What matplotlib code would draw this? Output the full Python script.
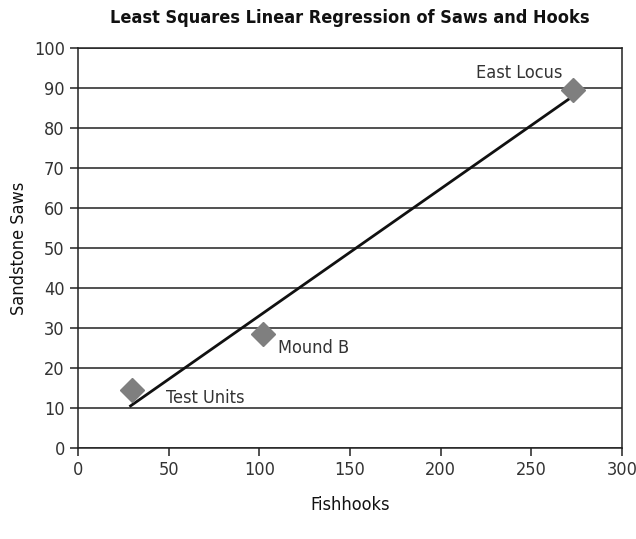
import matplotlib.pyplot as plt
import numpy as np
from matplotlib import font_manager

site_names = ['Test Units', 'Mound B', 'East Locus']
fishhooks = [30, 102, 273]
saws = [14.5, 28.5, 89.5]

# look for a narrow face (the reference uses a condensed sans)
narrow = [f for f in font_manager.fontManager.ttflist
          if ('condensed' in f.fname.lower() or 'narrow' in f.fname.lower())
          and 'oblique' not in f.fname.lower() and 'italic' not in f.fname.lower()]
reg = [f for f in narrow if f.weight in (400, 'normal', 'regular')]
bld = [f for f in narrow if f.weight in (700, 'bold')]
if reg:
    fp = font_manager.FontProperties(fname=reg[0].fname)
    fpb = font_manager.FontProperties(fname=(bld[0] if bld else reg[0]).fname)
    size, tsize = 13, 13
else:
    fp = font_manager.FontProperties(family='DejaVu Sans', stretch='condensed')
    fpb = font_manager.FontProperties(family='DejaVu Sans', weight='bold')
    size, tsize = 11, 11

dark = '#222222'
text_col = '#333333'

fig = plt.figure(figsize=(6.36, 5.39), dpi=100)
ax = fig.add_axes([0.1226, 0.1688, 0.8554, 0.7422])

# least squares fit through the three sites
slope, intercept = np.polyfit(fishhooks, saws, 1)
xs = np.array([min(fishhooks) - 1, max(fishhooks)])
ax.plot(xs, slope * xs + intercept, color='#111111', linewidth=2, zorder=3)

ax.plot(fishhooks, saws, linestyle='none', marker='D', markersize=12,
        color='#7f7f7f', markeredgecolor='#7f7f7f', zorder=4)

offsets = [(24, -6), (11, -10), (-8, 12)]
aligns = ['left', 'left', 'right']
for name, x, y, off, ha in zip(site_names, fishhooks, saws, offsets, aligns):
    ax.annotate(name, (x, y), xytext=off, textcoords='offset points',
                ha=ha, va='center', fontproperties=fp, fontsize=size, color=text_col)

ax.set_xlim(0, 300)
ax.set_ylim(0, 100)
ax.set_xticks(np.arange(0, 301, 50))
ax.set_yticks(np.arange(0, 101, 10))
ax.yaxis.grid(True, color=dark, linewidth=1.1)
ax.set_axisbelow(True)
for s in ax.spines.values():
    s.set_color(dark)
    s.set_linewidth(1.1)
ax.tick_params(axis='both', colors=dark, labelcolor=text_col,
               length=6, width=1.1)
for lab in ax.get_xticklabels() + ax.get_yticklabels():
    lab.set_fontproperties(fp)
    lab.set_fontsize(size)

ax.set_title('Least Squares Linear Regression of Saws and Hooks',
             fontproperties=fpb, fontsize=tsize, color='#111111', pad=18)
ax.set_xlabel('Fishhooks', fontproperties=fp, fontsize=size, color='#111111', labelpad=12)
ax.set_ylabel('Sandstone Saws', fontproperties=fp, fontsize=size, color='#111111', labelpad=4)

fig.savefig('out.png', dpi=100)
plt.close(fig)
